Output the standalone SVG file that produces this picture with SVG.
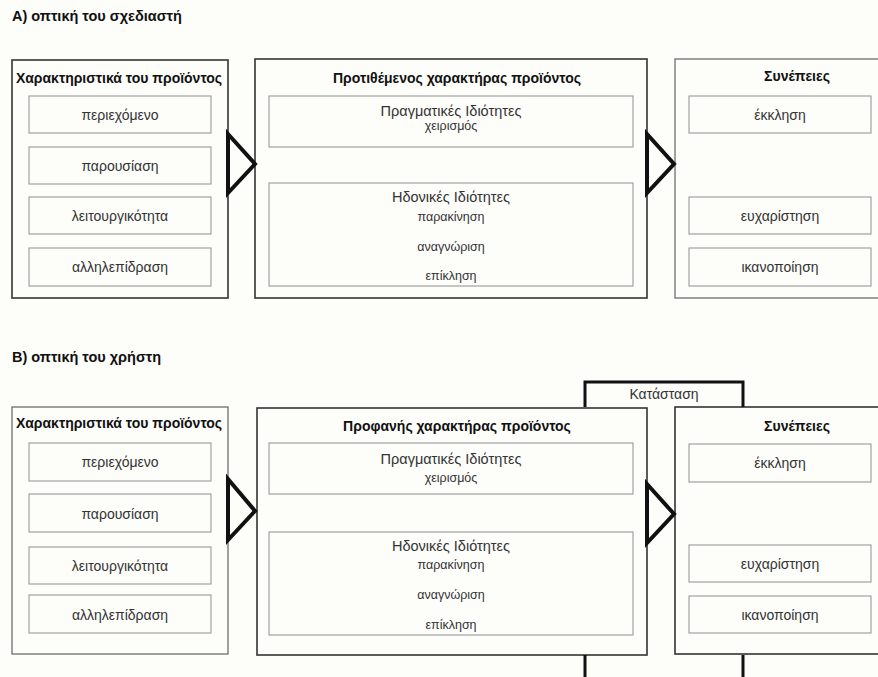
<svg xmlns="http://www.w3.org/2000/svg" width="878" height="677" viewBox="0 0 878 677">
  <style>
    text { font-family: "Liberation Sans", Arial, sans-serif; fill: #222; text-anchor: middle; }
    .heading { font-size: 14.5px; font-weight: bold; text-anchor: start; fill: #111; }
    .title { font-size: 14px; font-weight: bold; fill: #111; }
    .item { font-size: 14px; fill: #333; }
    .prop { font-size: 14.5px; fill: #333; }
    .sub { font-size: 12.5px; fill: #333; }
    .outer { fill: none; stroke: #333; stroke-width: 1.6; }
    .outer-light { fill: none; stroke: #777; stroke-width: 1.4; }
    .inner { fill: none; stroke: #9a9a9a; stroke-width: 1.1; }
    .chevron { fill: none; stroke: #111; stroke-width: 4; stroke-linejoin: miter; }
    .bracket { fill: none; stroke: #111; stroke-width: 3; }
  </style>
  <rect x="0" y="0" width="878" height="677" fill="#fdfdfa"/>

  <!-- Section A -->
  <text class="heading" x="12" y="21">A) οπτική του σχεδιαστή</text>

  <g id="a-features">
    <rect class="outer" x="12" y="60" width="216" height="238"/>
    <text class="title" x="119" y="83">Χαρακτηριστικά του προϊόντος</text>
    <rect class="inner" x="29" y="96" width="182" height="37"/>
    <text class="item" x="120" y="120">περιεχόμενο</text>
    <rect class="inner" x="29" y="147" width="182" height="37"/>
    <text class="item" x="120" y="171">παρουσίαση</text>
    <rect class="inner" x="29" y="197" width="182" height="37"/>
    <text class="item" x="120" y="221">λειτουργικότητα</text>
    <rect class="inner" x="29" y="248" width="182" height="38"/>
    <text class="item" x="120" y="272">αλληλεπίδραση</text>
  </g>

  <g id="a-character">
    <rect class="outer" x="255" y="59" width="392" height="239"/>
    <text class="title" x="457" y="83">Προτιθέμενος χαρακτήρας προϊόντος</text>
    <rect class="inner" x="269" y="96" width="364" height="51"/>
    <text class="prop" x="451" y="116">Πραγματικές Ιδιότητες</text>
    <text class="sub" x="451" y="130">χειρισμός</text>
    <rect class="inner" x="269" y="183" width="364" height="103"/>
    <text class="prop" x="451" y="202">Ηδονικές Ιδιότητες</text>
    <text class="sub" x="451" y="221">παρακίνηση</text>
    <text class="sub" x="451" y="251">αναγνώριση</text>
    <text class="sub" x="451" y="280">επίκληση</text>
  </g>

  <g id="a-consequences">
    <rect class="outer-light" x="675" y="59" width="210" height="239"/>
    <text class="title" x="797" y="81">Συνέπειες</text>
    <rect class="inner" x="689" y="96" width="182" height="37"/>
    <text class="item" x="780" y="120">έκκληση</text>
    <rect class="inner" x="689" y="197" width="182" height="37"/>
    <text class="item" x="780" y="221">ευχαρίστηση</text>
    <rect class="inner" x="689" y="248" width="182" height="38"/>
    <text class="item" x="780" y="272">ικανοποίηση</text>
  </g>

  <!-- Section B -->
  <text class="heading" x="12" y="362">B) οπτική του χρήστη</text>

  <g id="b-features">
    <rect class="outer-light" x="12" y="407" width="216" height="247"/>
    <text class="title" x="119" y="428">Χαρακτηριστικά του προϊόντος</text>
    <rect class="inner" x="29" y="443" width="182" height="38"/>
    <text class="item" x="120" y="467">περιεχόμενο</text>
    <rect class="inner" x="29" y="494" width="182" height="38"/>
    <text class="item" x="120" y="519">παρουσίαση</text>
    <rect class="inner" x="29" y="547" width="182" height="37"/>
    <text class="item" x="120" y="571">λειτουργικότητα</text>
    <rect class="inner" x="29" y="595" width="182" height="38"/>
    <text class="item" x="120" y="620">αλληλεπίδραση</text>
  </g>

  <g id="b-character">
    <rect class="outer" x="257" y="408" width="390" height="247"/>
    <text class="title" x="457" y="431">Προφανής χαρακτήρας προϊόντος</text>
    <rect class="inner" x="269" y="443" width="364" height="51"/>
    <text class="prop" x="451" y="464">Πραγματικές Ιδιότητες</text>
    <text class="sub" x="451" y="482">χειρισμός</text>
    <rect class="inner" x="269" y="532" width="364" height="103"/>
    <text class="prop" x="451" y="551">Ηδονικές Ιδιότητες</text>
    <text class="sub" x="451" y="569">παρακίνηση</text>
    <text class="sub" x="451" y="599">αναγνώριση</text>
    <text class="sub" x="451" y="629">επίκληση</text>
  </g>

  <g id="b-consequences">
    <rect class="outer" x="675" y="407" width="210" height="247"/>
    <text class="title" x="797" y="431">Συνέπειες</text>
    <rect class="inner" x="689" y="444" width="182" height="38"/>
    <text class="item" x="780" y="468">έκκληση</text>
    <rect class="inner" x="689" y="545" width="182" height="37"/>
    <text class="item" x="780" y="569">ευχαρίστηση</text>
    <rect class="inner" x="689" y="596" width="182" height="37"/>
    <text class="item" x="780" y="620">ικανοποίηση</text>
  </g>

  <g id="b-situation">
    <path class="bracket" d="M585 407 V382 H743 V407"/>
    <text class="item" x="664" y="399">Κατάσταση</text>
  </g>

  <!-- Connectors: flow chevrons and the situation bracket legs -->
  <g id="connectors">
    <polygon class="chevron" points="228,134 255,164 228,193"/>
    <polygon class="chevron" points="647,134 674,164 647,193"/>
    <polygon class="chevron" points="228,479 255,511 228,540"/>
    <polygon class="chevron" points="647,484 674,514 647,543"/>
    <path class="bracket" d="M585 655 V680 M743 655 V680"/>
  </g>
</svg>
